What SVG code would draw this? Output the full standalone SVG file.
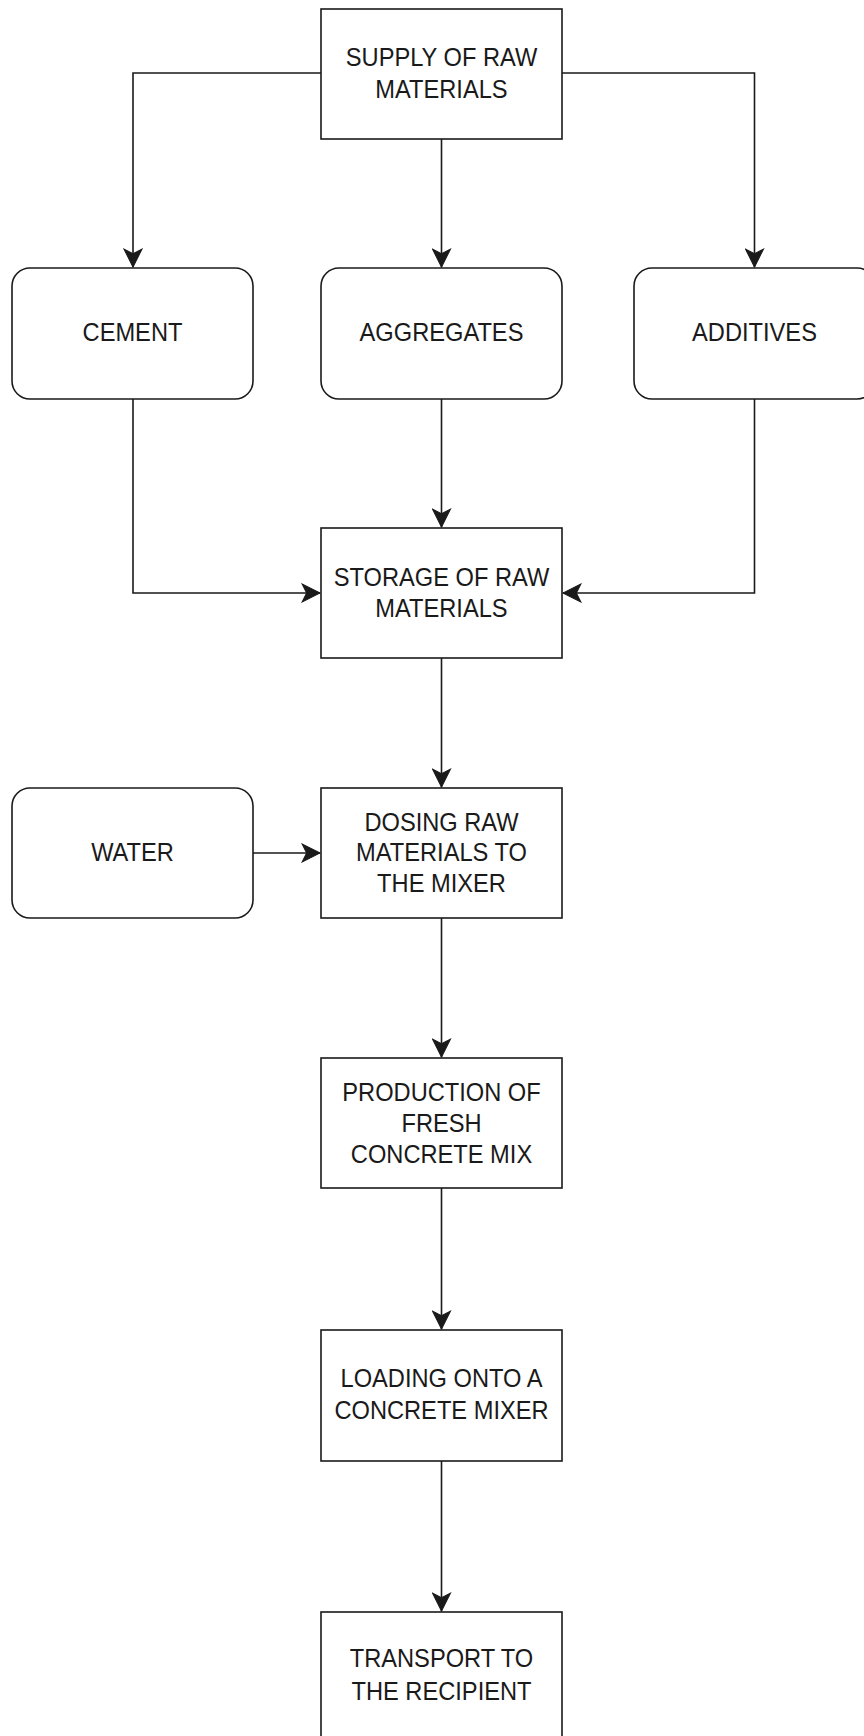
<svg xmlns="http://www.w3.org/2000/svg" width="864" height="1736" viewBox="0 0 864 1736">
<style>
.box{fill:#ffffff;stroke:#1a1a1a;stroke-width:1.6}
.edge{fill:none;stroke:#1a1a1a;stroke-width:1.6}
.t{font-family:"Liberation Sans",Arial,Helvetica,sans-serif;font-size:26px;fill:#1a1a1a;text-anchor:middle}
</style>
<defs>
<marker id="arr" markerUnits="userSpaceOnUse" markerWidth="20" markerHeight="20" viewBox="-17 -9 18 18" refX="0" refY="0" orient="auto">
<path d="M0,0 L-16,-8 L-12,0 L-16,8 Z" fill="#1a1a1a" stroke="#1a1a1a" stroke-width="1" stroke-linejoin="miter"/>
</marker>
</defs>
<rect width="864" height="1736" fill="#ffffff"/>
<g id="connectors">
<path class="edge" d="M321,73 H133 V267" marker-end="url(#arr)"/>
<path class="edge" d="M441.5,139 V267" marker-end="url(#arr)"/>
<path class="edge" d="M562,73 H754.5 V267" marker-end="url(#arr)"/>
<path class="edge" d="M133,399 V593 H320" marker-end="url(#arr)"/>
<path class="edge" d="M441.5,399 V527" marker-end="url(#arr)"/>
<path class="edge" d="M754.5,399 V593 H563" marker-end="url(#arr)"/>
<path class="edge" d="M441.5,658 V787" marker-end="url(#arr)"/>
<path class="edge" d="M253,853 H320" marker-end="url(#arr)"/>
<path class="edge" d="M441.5,918 V1057" marker-end="url(#arr)"/>
<path class="edge" d="M441.5,1188 V1329" marker-end="url(#arr)"/>
<path class="edge" d="M441.5,1461 V1611" marker-end="url(#arr)"/>
</g>
<g id="supply">
<rect class="box" x="321" y="9" width="241" height="130"/>
<g transform="translate(441.5,0) scale(0.91,1)"><text class="t" x="0" y="66">SUPPLY OF RAW</text><text class="t" x="0" y="98">MATERIALS</text></g>
</g>
<g id="cement">
<rect class="box" x="12" y="268" width="241" height="131" rx="18" ry="18"/>
<g transform="translate(132.5,0) scale(0.91,1)"><text class="t" x="0" y="341">CEMENT</text></g>
</g>
<g id="aggregates">
<rect class="box" x="321" y="268" width="241" height="131" rx="18" ry="18"/>
<g transform="translate(441.5,0) scale(0.91,1)"><text class="t" x="0" y="341">AGGREGATES</text></g>
</g>
<g id="additives">
<rect class="box" x="634" y="268" width="241" height="131" rx="18" ry="18"/>
<g transform="translate(754.5,0) scale(0.91,1)"><text class="t" x="0" y="341">ADDITIVES</text></g>
</g>
<g id="storage">
<rect class="box" x="321" y="528" width="241" height="130"/>
<g transform="translate(441.5,0) scale(0.91,1)"><text class="t" x="0" y="586">STORAGE OF RAW</text><text class="t" x="0" y="617">MATERIALS</text></g>
</g>
<g id="water">
<rect class="box" x="12" y="788" width="241" height="130" rx="18" ry="18"/>
<g transform="translate(132.5,0) scale(0.91,1)"><text class="t" x="0" y="861">WATER</text></g>
</g>
<g id="dosing">
<rect class="box" x="321" y="788" width="241" height="130"/>
<g transform="translate(441.5,0) scale(0.91,1)"><text class="t" x="0" y="831">DOSING RAW</text><text class="t" x="0" y="861.5">MATERIALS TO</text><text class="t" x="0" y="892">THE MIXER</text></g>
</g>
<g id="production">
<rect class="box" x="321" y="1058" width="241" height="130"/>
<g transform="translate(441.5,0) scale(0.91,1)"><text class="t" x="0" y="1101.5">PRODUCTION OF</text><text class="t" x="0" y="1132">FRESH</text><text class="t" x="0" y="1163">CONCRETE MIX</text></g>
</g>
<g id="loading">
<rect class="box" x="321" y="1330" width="241" height="131"/>
<g transform="translate(441.5,0) scale(0.91,1)"><text class="t" x="0" y="1387.5">LOADING ONTO A</text><text class="t" x="0" y="1419">CONCRETE MIXER</text></g>
</g>
<g id="transport">
<rect class="box" x="321" y="1612" width="241" height="130"/>
<g transform="translate(441.5,0) scale(0.91,1)"><text class="t" x="0" y="1667.5">TRANSPORT TO</text><text class="t" x="0" y="1700">THE RECIPIENT</text></g>
</g>
</svg>
